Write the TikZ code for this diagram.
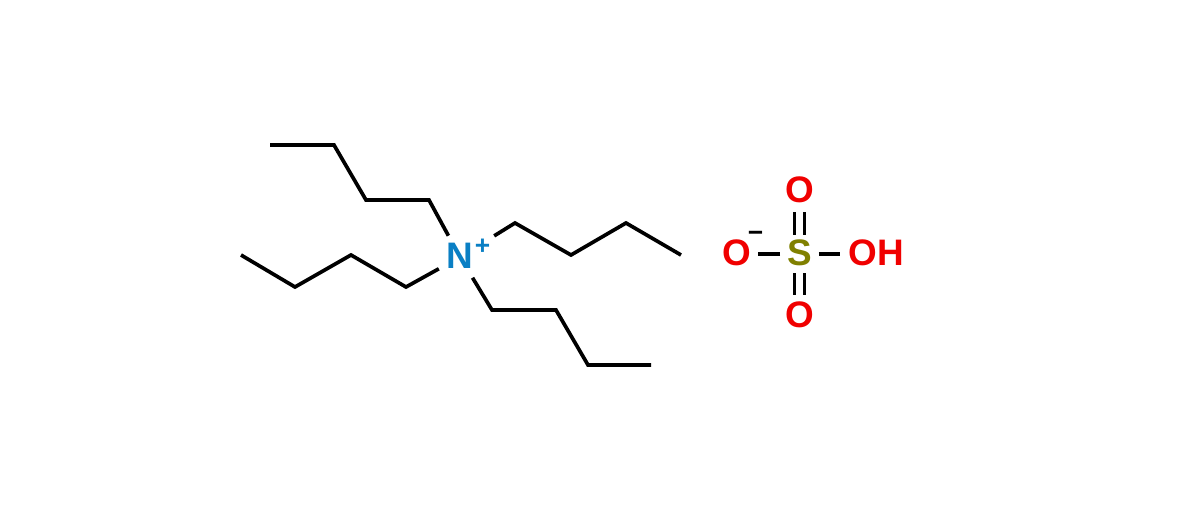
\documentclass[tikz,border=0pt]{standalone}
\usepackage{fontspec}
\setmainfont{Liberation Sans}
\definecolor{nitrogen}{HTML}{0A7FC4}
\definecolor{oxygen}{HTML}{F00000}
\definecolor{sulfur}{HTML}{808000}
\tikzset{
	bond/.style={line width=3.7*0.567pt,black},
	dblbond/.style={bond,double,double distance=6.3*0.567pt},
	atom/.style={circle,inner sep=0pt,minimum size=42*0.567pt,text depth=1.2pt,font=\fontsize{21}{24}\bfseries\selectfont},
	charge/.style={inner sep=0pt,font=\fontsize{15}{17}\bfseries\selectfont},
}
\begin{document}
\begin{tikzpicture}[x=0.02cm,y=-0.02cm]
	\useasboundingbox (0,0) rectangle (1200,510);
	
	% Define nitrogen
	\node[atom,text=nitrogen,minimum size=48*0.567pt] (NodeN) at (460,257) {N};
	\node[charge,text=nitrogen] (Plus) at (482.5,246.5) {+};
	
	% Define upper chain
	\coordinate (Up1) at (429,200);
	\coordinate (Up2) at (366,200);
	\coordinate (Up3) at (334,145);
	\coordinate (Up4) at (270,145);
	\draw[bond] (NodeN) -- (Up1) -- (Up2) -- (Up3) -- (Up4);
	
	% Define left chain
	\coordinate (Left1) at (406,287);
	\coordinate (Left2) at (351,255);
	\coordinate (Left3) at (295,287);
	\coordinate (Left4) at (241,255);
	\draw[bond] (NodeN) -- (Left1) -- (Left2) -- (Left3) -- (Left4);
	
	% Define lower chain
	\coordinate (Low1) at (492,310);
	\coordinate (Low2) at (556,310);
	\coordinate (Low3) at (588,365);
	\coordinate (Low4) at (651,365);
	\draw[bond] (NodeN) -- (Low1) -- (Low2) -- (Low3) -- (Low4);
	
	% Define right chain
	\coordinate (Right1) at (515,223);
	\coordinate (Right2) at (571,255);
	\coordinate (Right3) at (626,223);
	\coordinate (Right4) at (681,255);
	\draw[bond,shorten <=16*0.567pt] (NodeN) -- (Right1) -- (Right2) -- (Right3) -- (Right4);
	
	% Define sulfate
	\node[atom,text=sulfur,minimum size=38*0.567pt] (NodeS) at (799.5,254) {S};
	\node[atom,text=oxygen] (NodeO1) at (737,254) {O};
	\node[atom,text=oxygen] (NodeO2) at (799.5,191) {O};
	\node[atom,text=oxygen] (NodeO3) at (799.5,316) {O};
	\node[atom,text=oxygen,rectangle,anchor=west,inner sep=8*0.567pt,minimum size=0pt] (NodeOH) at (840,254) {OH};
	\node[charge] (Minus) at (755.5,236.5) {−};
	
	\draw[bond] (NodeS) -- (NodeO1);
	\draw[bond] (NodeS) -- (NodeOH);
	\draw[dblbond] (NodeS) -- (NodeO2);
	\draw[dblbond] (NodeS) -- (NodeO3);
\end{tikzpicture}
\end{document}
